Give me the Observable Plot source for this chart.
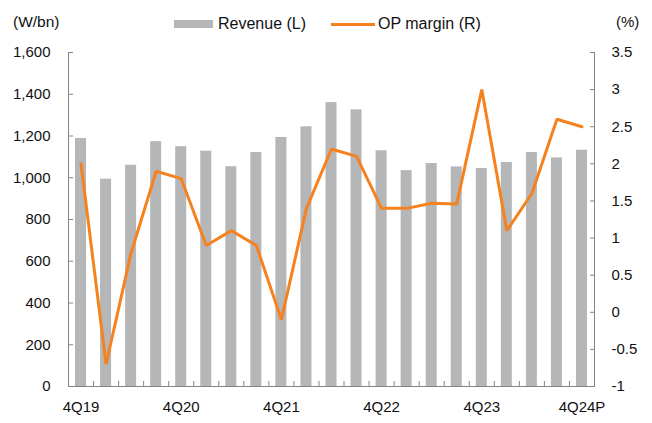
<!DOCTYPE html>
<html>
<head>
<meta charset="utf-8">
<script src="https://cdn.jsdelivr.net/npm/d3@7"></script>
<script src="https://cdn.jsdelivr.net/npm/@observablehq/plot@0.6"></script>
<style>
  body { margin: 0; background: #fff; }
  #wrap { position: relative; width: 652px; height: 423px; font-family: "Liberation Sans", Arial, sans-serif; color: #111; }
  .lbl { position: absolute; white-space: nowrap; line-height: 18px; }
  .sw { position: absolute; }
</style>
</head>
<body>
<div id="wrap">
  <div class="lbl" style="left:13px; top:13px; font-size:15.5px;">(W/bn)</div>
  <div class="sw" style="left:174px; top:20px; width:39px; height:8px; background:#b5b6b8;"></div>
  <div class="lbl" style="left:218px; top:15px; font-size:16px;">Revenue (L)</div>
  <div class="sw" style="left:331px; top:23px; width:44px; height:3px; background:#f5821f;"></div>
  <div class="lbl" style="left:378px; top:15px; font-size:16px;">OP margin (R)</div>
  <div class="lbl" style="left:616px; top:13px; font-size:15px;">(%)</div>
</div>
<script>
const quarters = ["4Q19","1Q20","2Q20","3Q20","4Q20","1Q21","2Q21","3Q21","4Q21","1Q22","2Q22","3Q22","4Q22","1Q23","2Q23","3Q23","4Q23","1Q24","2Q24","3Q24","4Q24P"];
const revenue = [1188, 993, 1060, 1173, 1149, 1127, 1053, 1121, 1193, 1244, 1360, 1325, 1129, 1034, 1068, 1052, 1044, 1073, 1121, 1095, 1132];
const opMargin = [2.0, -0.7, 0.8, 1.9, 1.8, 0.9, 1.1, 0.9, -0.1, 1.4, 2.2, 2.1, 1.4, 1.4, 1.47, 1.46, 3.0, 1.1, 1.6, 2.6, 2.5];
const leftTicks = [0, 200, 400, 600, 800, 1000, 1200, 1400, 1600];
const rightTicks = [-1, -0.5, 0, 0.5, 1, 1.5, 2, 2.5, 3, 3.5];
const xLabels = ["4Q19", "4Q20", "4Q21", "4Q22", "4Q23", "4Q24P"];

const leftMax = 1600, rMin = -1, rMax = 3.5;
const toLeft = v => (v - rMin) / (rMax - rMin) * leftMax;
const fromLeft = v => v / leftMax * (rMax - rMin) + rMin;

const rows = quarters.map((q, i) => ({i, q, revenue: revenue[i], margin: opMargin[i]}));
const n = quarters.length;
const labelIdx = xLabels.map(l => quarters.indexOf(l));
const boundaries = d3.range(n - 1).map(i => i + 0.5);
const half = 0.22;
const axisColor = "#858585";

const chart = Plot.plot({
  width: 652,
  height: 423,
  marginLeft: 68,
  marginRight: 58,
  marginTop: 52,
  marginBottom: 37,
  style: {fontFamily: "'Liberation Sans', Arial, sans-serif", fontSize: "15px", color: "#111", background: "transparent"},
  x: {type: "linear", domain: [-0.5, n - 0.5], label: null},
  y: {domain: [0, leftMax], label: null},
  marks: [
    Plot.rectY(rows, {x1: d => d.i - half, x2: d => d.i + half, y: "revenue", fill: "#b5b6b8"}),
    Plot.ruleX([-0.5, n - 0.5], {y1: 0, y2: leftMax, stroke: axisColor}),
    Plot.ruleY([0], {stroke: axisColor}),
    Plot.line(rows, {x: "i", y: d => toLeft(d.margin), stroke: "#f5821f", strokeWidth: 3, strokeLinejoin: "miter"}),
    Plot.axisY({anchor: "left", ticks: leftTicks, tickSize: -5, tickPadding: 23, stroke: axisColor, tickFormat: d3.format(","), color: "#111"}),
    Plot.axisY({anchor: "right", ticks: rightTicks.map(toLeft), tickSize: -5, tickPadding: 22, stroke: axisColor, tickFormat: v => String(Math.round(fromLeft(v) * 10) / 10)}),
    Plot.axisX({anchor: "bottom", ticks: labelIdx, tickSize: 0, tickPadding: 15, tickFormat: i => quarters[i]}),
    Plot.axisX({anchor: "bottom", ticks: boundaries, tickSize: -5, tickPadding: 0, stroke: axisColor, tickFormat: () => ""})
  ]
});
chart.style.position = "absolute";
chart.style.left = "0px";
chart.style.top = "0px";
document.getElementById("wrap").prepend(chart);
</script>
</body>
</html>
